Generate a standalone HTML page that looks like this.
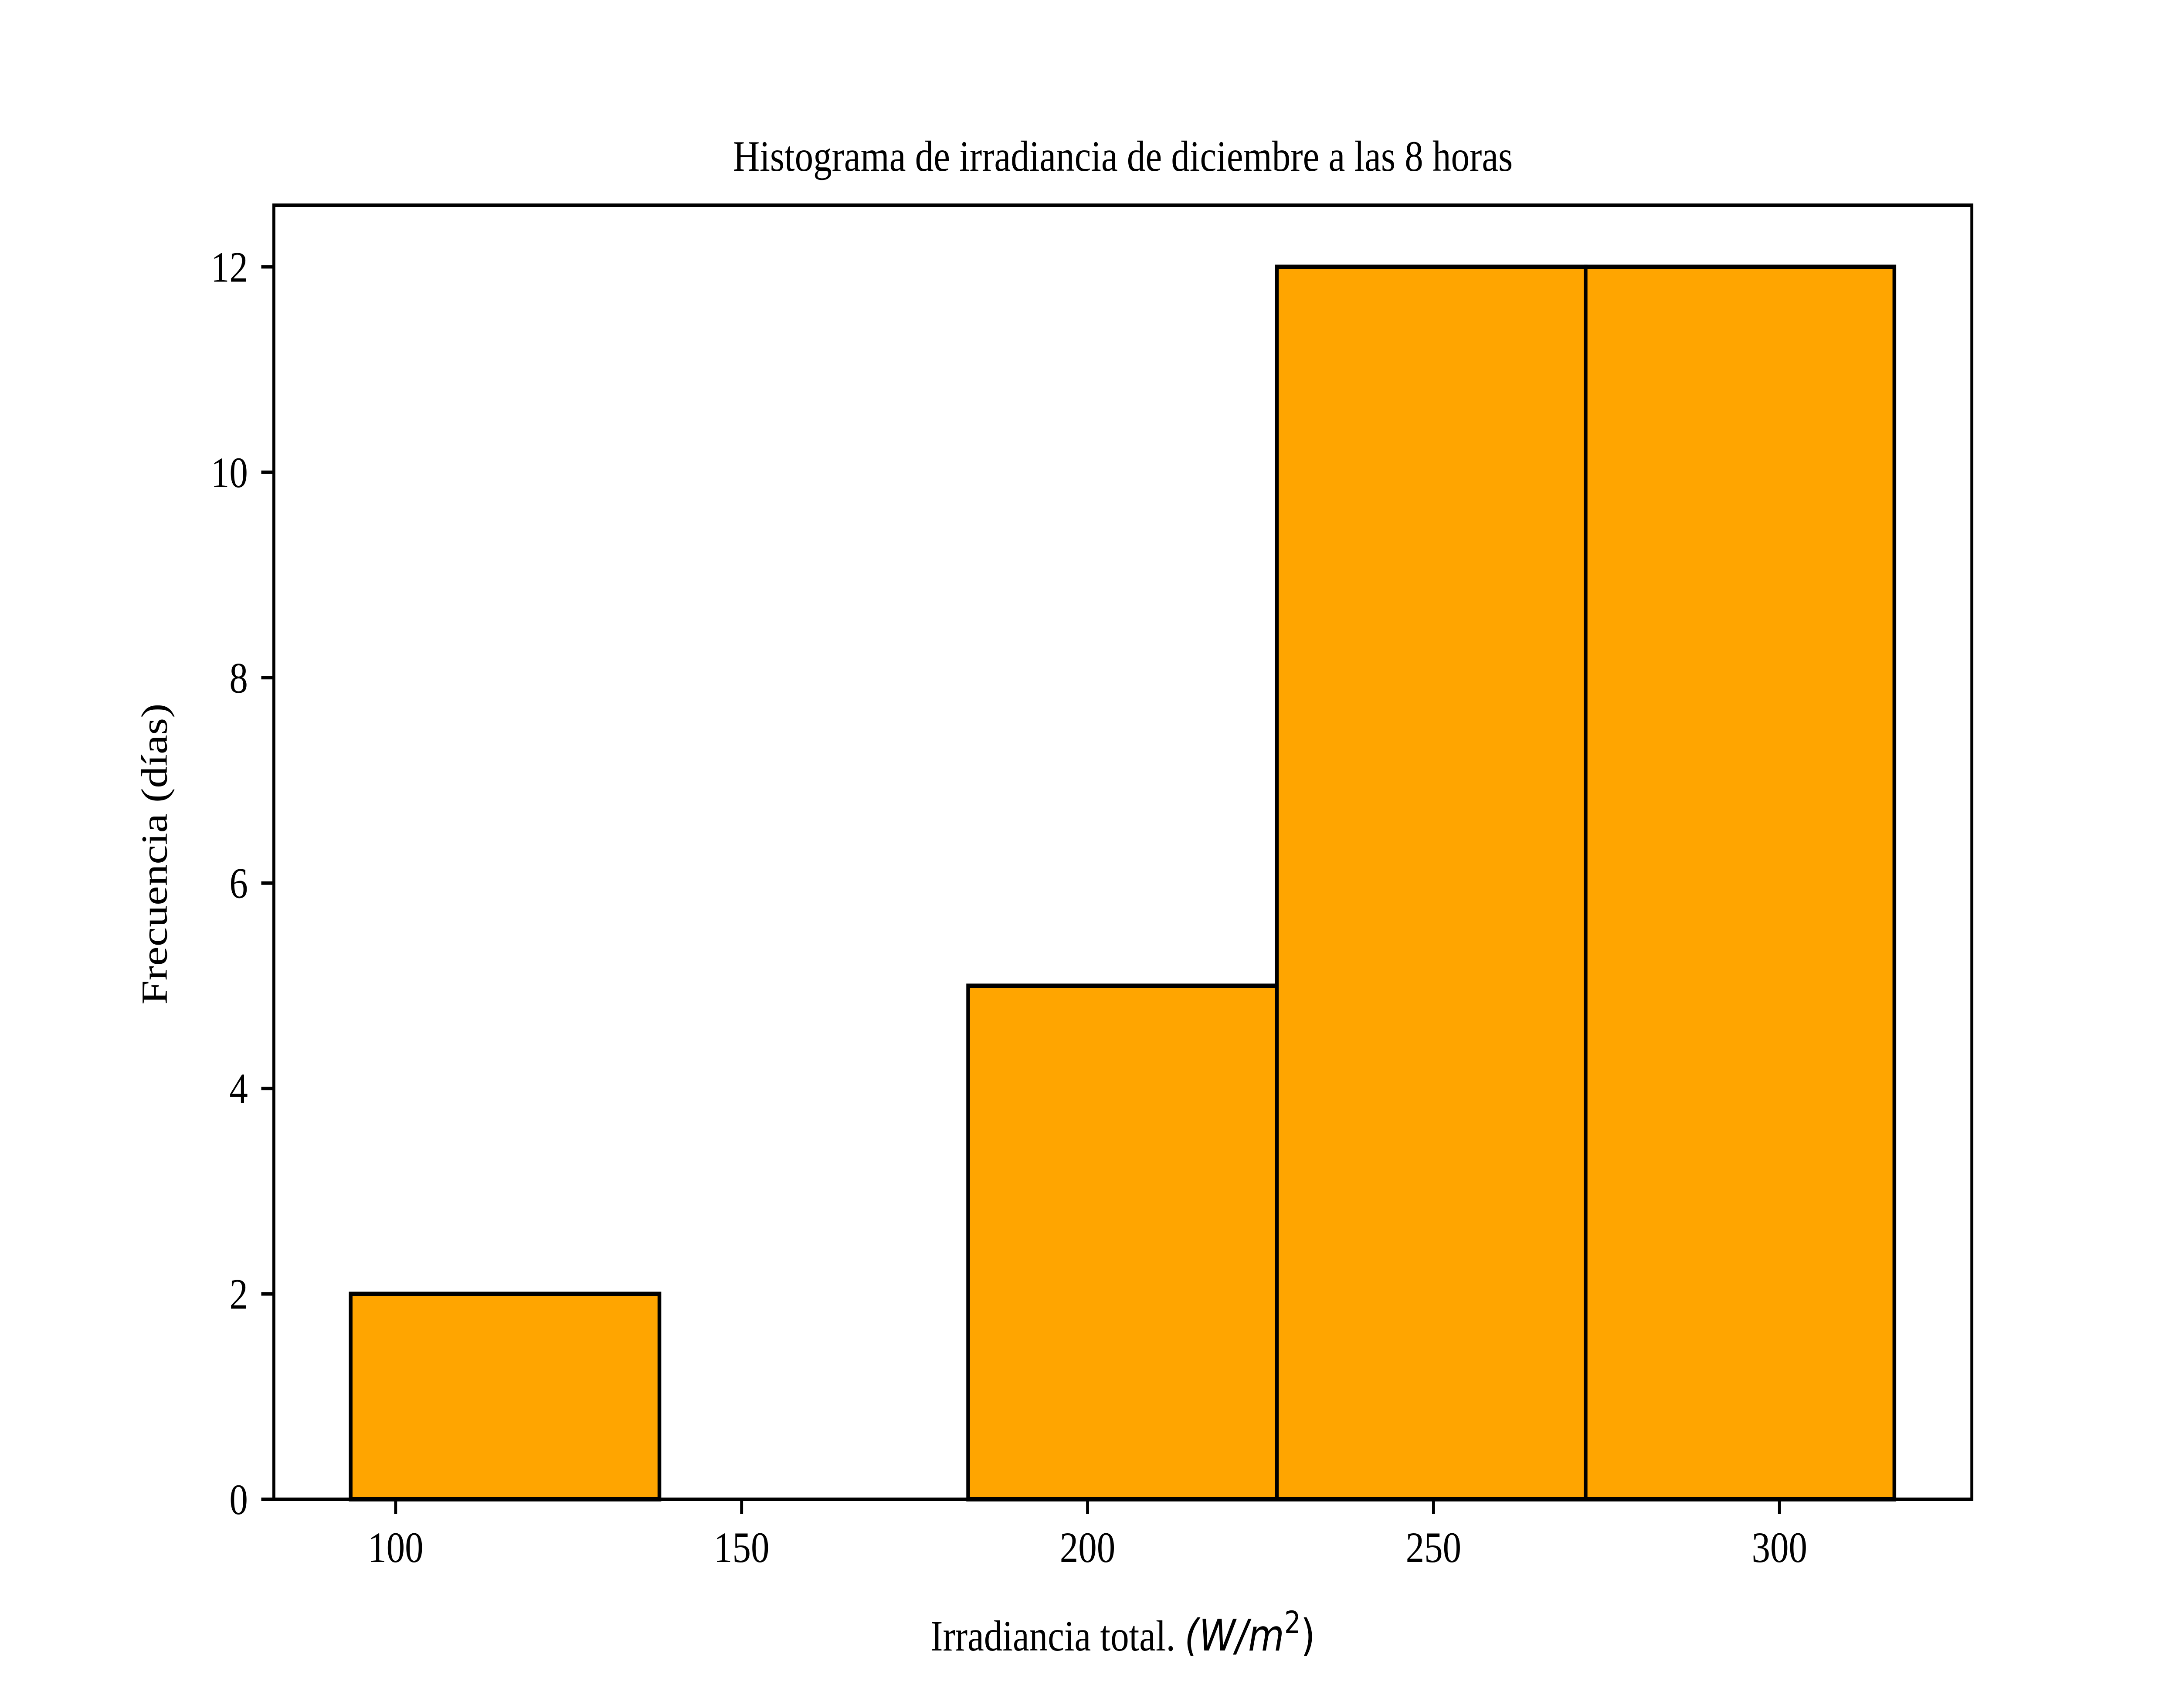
<!DOCTYPE html>
<html><head><meta charset="utf-8"><style>html,body{margin:0;padding:0;background:#fff;overflow:hidden;width:100%;height:100%}svg{display:block;width:100vw;height:100vh}</style></head>
<body>
<svg id="chart" viewBox="0 0 5880 3920" preserveAspectRatio="none" xmlns="http://www.w3.org/2000/svg" font-family="'Liberation Serif', serif">
<rect width="5880" height="3920" fill="#fff"/>
<text x="3030" y="392" font-size="100" text-anchor="middle">Histograma de irradiancia de diciembre a las 8 horas</text>
<g id="bars"></g>
<g id="axes"></g>
<text x="3030" y="3788" font-size="100" text-anchor="middle">Irradiancia total. <tspan font-family="'DejaVu Sans', sans-serif" font-style="italic">(W/m</tspan><tspan font-family="'DejaVu Sans', sans-serif" font-size="70" dy="-40">2</tspan><tspan font-family="'DejaVu Sans', sans-serif" dy="40">)</tspan></text>
<text x="0" y="0" font-size="100" text-anchor="middle" transform="translate(450,1960) rotate(-90)">Frecuencia (días)</text>
</svg>
<script>
const binEdges = [93.5, 138.12, 182.74, 227.36, 271.98, 316.6];
const counts = [2, 0, 5, 12, 12];
const xTicks = [100, 150, 200, 250, 300];
const yTicks = [0, 2, 4, 6, 8, 10, 12];

const L = 739, R = 5321, T = 471, B = 3441;
const xMin = 82.4, xMax = 327.8, yMin = 0, yMax = 12.6;
const ns = 'http://www.w3.org/2000/svg';
function sx(v){ return L + (v - xMin) / (xMax - xMin) * (R - L); }
function sy(v){ return B - (v - yMin) / (yMax - yMin) * (B - T); }
function mk(tag, attrs){ const e = document.createElementNS(ns, tag); for (const k in attrs) e.setAttribute(k, attrs[k]); return e; }

const bars = document.getElementById('bars');
for (let i = 0; i < counts.length; i++) {
  const x0 = sx(binEdges[i]), x1 = sx(binEdges[i+1]);
  const y0 = sy(counts[i]);
  const r = mk('rect', {x: x0, y: y0, width: x1 - x0, height: B - y0, fill: '#ffa500', stroke: '#000', 'stroke-width': 10});
  
  
  bars.appendChild(r);
}

const axes = document.getElementById('axes');
const frame = mk('rect', {x: L, y: T, width: R - L, height: B - T, fill: 'none', stroke: '#000', 'stroke-width': 8});


axes.appendChild(frame);

xTicks.forEach(v => {
  const x = sx(v);
  const t = mk('line', {x1: x, x2: x, y1: B, y2: B + 34, stroke: '#000', 'stroke-width': 8});
  
  
  axes.appendChild(t);
  const lb = mk('text', {x: x, y: B + 144, 'font-size': 100, 'text-anchor': 'middle'});
  lb.textContent = v;
  
  
  axes.appendChild(lb);
});
yTicks.forEach(v => {
  const y = sy(v);
  const t = mk('line', {x1: L - 34, x2: L, y1: y, y2: y, stroke: '#000', 'stroke-width': 8});
  
  
  axes.appendChild(t);
  const lb = mk('text', {x: L - 70, y: y + 34, 'font-size': 100, 'text-anchor': 'end'});
  lb.textContent = v;
  
  
  axes.appendChild(lb);
});
</script>
</body></html>
